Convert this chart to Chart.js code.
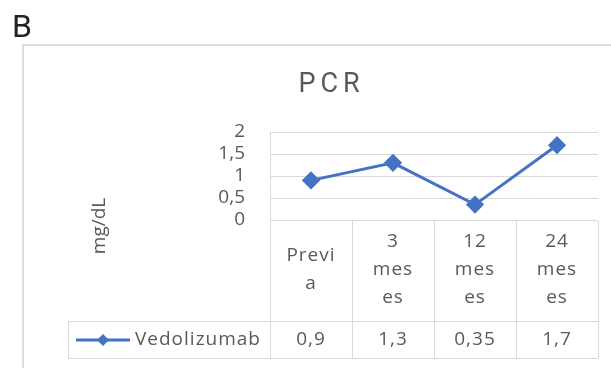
<!DOCTYPE html>
<html>
<head>
<meta charset="utf-8">
<script src="https://cdn.jsdelivr.net/npm/chart.js@4.4.0/dist/chart.umd.min.js"></script>
<style>
  html, body { margin: 0; padding: 0; background: #fff; }
  #wrap { width: 611px; height: 368px; }
</style>
</head>
<body>
<div id="wrap"><canvas id="pcr"></canvas></div>
<script>
// data
const categories = [['Previ', 'a'], ['3', 'mes', 'es'], ['12', 'mes', 'es'], ['24', 'mes', 'es']];
const seriesName = 'Vedolizumab';
const vedolizumab = [0.9, 1.3, 0.35, 1.7];
const yTicks = [0, 0.5, 1, 1.5, 2];
const chartTitle = 'PCR';
const axisTitle = 'mg/dL';
const panelLetter = 'B';

const BLUE = '#4472C4';
const GRID = '#d9d9d9';
const TEXT = '#595959';
const FONT = '"Open Sans", sans-serif';
const TABLE_FONT = '19px ' + FONT;

const fmt = (v) => String(v).replace('.', ',');

// Excel-like decorations: outer frame, panel letter, title, axis title, data table
const decorations = {
    id: 'decorations',
    beforeDraw(chart) {
        const ctx = chart.ctx;
        ctx.save();
        ctx.fillStyle = '#fff';
        ctx.fillRect(0, 0, chart.width, chart.height);

        ctx.strokeStyle = '#dcdcdc';
        ctx.lineWidth = 2;
        ctx.beginPath();
        ctx.moveTo(23, chart.height + 2);
        ctx.lineTo(23, 45);
        ctx.lineTo(chart.width + 2, 45);
        ctx.stroke();

        ctx.fillStyle = '#222';
        ctx.font = '32px Roboto, sans-serif';
        ctx.textBaseline = 'alphabetic';
        ctx.textAlign = 'left';
        ctx.fillText(panelLetter, 12, 37);

        // spaced-out title
        ctx.fillStyle = TEXT;
        ctx.font = '27px Roboto, sans-serif';
        const gap = 5;
        const widths = [...chartTitle].map(c => ctx.measureText(c).width);
        const total = widths.reduce((a, b) => a + b, 0) + gap * (widths.length - 1);
        let x = 329 - total / 2;
        [...chartTitle].forEach((c, i) => {
            ctx.fillText(c, x, 92);
            x += widths[i] + gap;
        });

        ctx.translate(100, 226);
        ctx.rotate(-Math.PI / 2);
        ctx.font = TABLE_FONT;
        ctx.textAlign = 'center';
        ctx.textBaseline = 'middle';
        ctx.fillText(axisTitle, 0, 0);
        ctx.restore();
    },
    afterDraw(chart) {
        const ctx = chart.ctx;
        const xs = chart.scales.x;
        const area = chart.chartArea;
        const n = categories.length;
        const colW = (area.right - area.left) / n;
        const top = area.bottom + 1;
        const rowY = 321;
        const bottom = 358;
        const legendLeft = 68;

        ctx.save();
        ctx.strokeStyle = GRID;
        ctx.lineWidth = 1;
        ctx.beginPath();
        for (let i = 0; i <= n; i++) {
            const x = Math.round(area.left + i * colW) + 0.5;
            ctx.moveTo(x, top);
            ctx.lineTo(x, bottom);
        }
        ctx.moveTo(legendLeft + 0.5, rowY);
        ctx.lineTo(legendLeft + 0.5, bottom);
        ctx.moveTo(legendLeft, rowY + 0.5);
        ctx.lineTo(area.right, rowY + 0.5);
        ctx.moveTo(legendLeft, bottom + 0.5);
        ctx.lineTo(area.right, bottom + 0.5);
        ctx.stroke();

        ctx.fillStyle = TEXT;
        ctx.font = TABLE_FONT;
        ctx.letterSpacing = '1px';
        ctx.textAlign = 'center';
        ctx.textBaseline = 'middle';
        const lineH = 28;
        const headMid = (top + rowY) / 2 - 1;
        categories.forEach((lines, i) => {
            const cx = xs.getPixelForValue(i);
            const y0 = headMid - (lines.length - 1) * lineH / 2;
            lines.forEach((t, j) => ctx.fillText(t, cx, y0 + j * lineH));
            ctx.fillText(fmt(vedolizumab[i]), cx, (rowY + bottom) / 2);
        });

        // legend key
        const ly = (rowY + bottom) / 2 + 0.5;
        ctx.strokeStyle = BLUE;
        ctx.lineWidth = 3;
        ctx.beginPath();
        ctx.moveTo(76, ly);
        ctx.lineTo(130, ly);
        ctx.stroke();
        ctx.fillStyle = BLUE;
        ctx.beginPath();
        ctx.moveTo(103, ly - 6);
        ctx.lineTo(109, ly);
        ctx.lineTo(103, ly + 6);
        ctx.lineTo(97, ly);
        ctx.closePath();
        ctx.fill();
        ctx.fillStyle = TEXT;
        ctx.textAlign = 'left';
        ctx.fillText(seriesName, 135, ly);
        ctx.restore();
    }
};

new Chart(document.getElementById('pcr'), {
    type: 'line',
    data: {
        labels: categories,
        datasets: [{
            label: seriesName,
            data: vedolizumab,
            borderColor: BLUE,
            backgroundColor: BLUE,
            borderWidth: 3,
            pointStyle: 'rectRot',
            pointRadius: 7,
            pointBackgroundColor: BLUE,
            pointBorderColor: BLUE,
            tension: 0,
            clip: false
        }]
    },
    options: {
        responsive: true,
        maintainAspectRatio: false,
        animation: false,
        layout: { padding: { top: 132, right: 13, bottom: 148, left: 0 } },
        plugins: {
            legend: { display: false },
            tooltip: { enabled: false },
            title: { display: false }
        },
        scales: {
            x: {
                display: false,
                offset: true
            },
            y: {
                min: 0,
                max: 2,
                afterBuildTicks(scale) {
                    scale.ticks = yTicks.map(v => ({ value: v }));
                },
                afterFit(scale) {
                    scale.width = 270;
                },
                grid: { color: GRID, drawTicks: false },
                border: { display: true, color: GRID },
                ticks: {
                    autoSkip: false,
                    padding: 25,
                    color: TEXT,
                    font: { family: FONT, size: 19 },
                    callback: (v) => fmt(v)
                }
            }
        }
    },
    plugins: [decorations]
});
</script>
</body>
</html>
